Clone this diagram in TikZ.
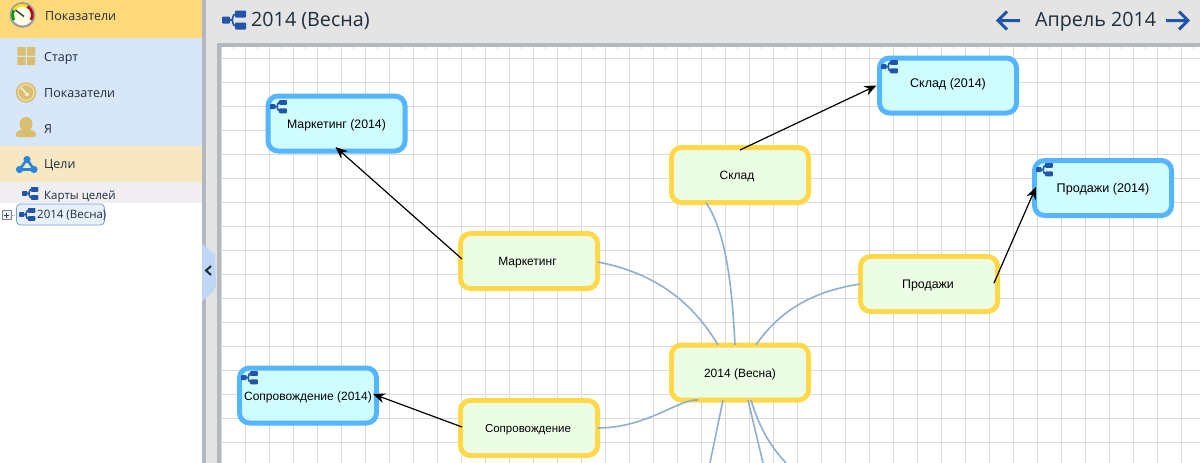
\documentclass[tikz,border=0pt]{standalone}
\usepackage{fontspec}
\setmainfont{Liberation Sans}
\newfontfamily\uifont{Open Sans}
\usetikzlibrary{arrows.meta,calc}
\definecolor{bandtop}{HTML}{FFD97A}
\definecolor{bandblue}{HTML}{D7E6F8}
\definecolor{bandgoal}{HTML}{F7E7C2}
\definecolor{bandsub}{HTML}{F0EEF0}
\definecolor{sepgray}{HTML}{B3B7BE}
\definecolor{barggray}{HTML}{E4E4E4}
\definecolor{gridgray}{HTML}{DADADA}
\definecolor{tan}{HTML}{D8BE6E}
\definecolor{iconblue}{HTML}{2255AA}
\definecolor{linkblue}{HTML}{8FAFD0}
\definecolor{yborder}{HTML}{FFD94A}
\definecolor{yfill}{HTML}{ECFDE6}
\definecolor{bborder}{HTML}{55B5FF}
\definecolor{bfill}{HTML}{CFFDFF}
\definecolor{goalblue}{HTML}{2A86DA}
\definecolor{uitext}{HTML}{1F2D3D}
\definecolor{handleblue}{HTML}{BFD7F5}
\definecolor{treeborder}{HTML}{7C9CE0}
\definecolor{treefill}{HTML}{E8F0FB}
\tikzset{
  x=1pt,y=-1pt,
  ybox/.style={draw=yborder,fill=yfill,line width=5pt,rounded corners=10pt,minimum width=137pt,minimum height=55pt,inner sep=0pt,outer sep=0pt,text height=11pt,text depth=2pt,font=\fontsize{12}{14}\selectfont},
  bbox/.style={draw=bborder,fill=bfill,line width=5pt,rounded corners=10pt,minimum width=137pt,minimum height=55pt,inner sep=0pt,outer sep=0pt,text height=11pt,text depth=2pt,font=\fontsize{12}{14}\selectfont},
  link/.style={draw=linkblue,line width=1.6pt},
  arr/.style={draw=black,line width=1.2pt,-{Stealth[length=12pt,width=10pt]}},
  menu/.style={anchor=west,inner sep=0pt,text=uitext,font=\uifont\fontsize{12.5}{15}\selectfont},
  pics/treeicon/.style={code={
    \fill[iconblue,rounded corners=.8pt] (0,6) rectangle (8,13);
    \fill[iconblue,rounded corners=.8pt] (13,0) rectangle (24,7);
    \fill[iconblue,rounded corners=.8pt] (13,12) rectangle (24,19);
    \draw[iconblue,line width=1.6pt] (7,9.5) -- (10,9.5) (14,3.5) .. controls (10,3.5) and (11,9.5) .. (10,9.5) .. controls (11,9.5) and (10,15.5) .. (14,15.5);
  }}
}
\begin{document}
\begin{tikzpicture}
\useasboundingbox (0,0) rectangle (1200,463);
% backgrounds
\fill[barggray] (202,0) rectangle (1200,463);
\fill[sepgray] (202,0) rectangle (206,463);
\fill[white] (0,203) rectangle (202,463);
\fill[bandtop] (0,0) rectangle (202,38);
\fill[bandblue] (0,38) rectangle (202,146);
\fill[bandgoal] (0,146) rectangle (202,182);
\fill[bandsub] (0,182) rectangle (202,203);
% canvas
\fill[sepgray] (217,43) rectangle (1200,463);
\fill[white] (220.5,47) rectangle (1200,463);
\foreach \k in {0,...,40} {
  \draw[gridgray,line width=1.2pt] ({221.7+24*\k},47) -- ({221.7+24*\k},463);
  \draw[gridgray,line width=1pt] ({233.7+24*\k},47) -- ({233.7+24*\k},49);
}
\foreach \k in {0,...,17} \draw[gridgray,line width=1.2pt] (220.5,{58.7+24*\k}) -- (1200,{58.7+24*\k});
% handle
\fill[handleblue] (202,244) -- (215,254) -- (216,285) -- (214,291) -- (202,301) -- cycle;
\draw[uitext,line width=2pt] (211,266) -- (206,270.5) -- (211,275);
% sidebar icons
\fill[gray!75] (22.5,15) circle (13);
\fill[white!92!yellow] (22.5,15) circle (10.5);
\draw[green!60!black,line width=2.6pt] (14.0,19.9) arc (-210:-150:9.8);
\draw[yellow!85!orange,line width=2.6pt] (14.0,10.1) arc (-150:-60:9.8);
\draw[red!75!black,line width=2.6pt] (27.4,6.5) arc (-60:30:9.8);
\draw[black!75,line width=1.5pt] (24,16.5) -- (15.5,10);
\fill[tan] (17.3,47) rectangle (25.7,55.5) (27,47) rectangle (35,55.5) (17.3,57) rectangle (25.7,65) (27,57) rectangle (35,65);
\fill[tan] (26,92.5) circle (10.3);
\draw[white!60!tan,line width=.9pt] (26,92.5) circle (8);
\draw[white!70!tan,line width=1.6pt] (21,87.5) -- (27,94.5);
\fill[white!70!tan] (27,94.5) circle (2);
\fill[tan] (26,124) ellipse (6.5 and 7);
\fill[tan,rounded corners=3pt] (15,137) -- (16.5,131.5) -- (24,129) -- (28,129) -- (35.5,131.5) -- (37,137) -- cycle;
\draw[goalblue,line width=2.6pt] (27,159.5) -- (19.5,169.5) -- (34,169.5) -- cycle;
\fill[goalblue] (27,159.5) circle (3.6) (19.5,169.5) circle (3.6) (34,169.5) circle (3.6);
\pic[scale=.68] at (22,187) {treeicon};
% sidebar text
\node[menu] (m1) at (45,16) {Показатели};
\node[menu] (m2) at (44,58) {Старт};
\node[menu] (m3) at (44,93) {Показатели};
\node[menu] (m4) at (44,129) {Я};
\node[menu] (m5) at (44,165.5) {Цели};
\node[menu,font=\uifont\fontsize{11.5}{14}\selectfont] (m6) at (44,196.5) {Карты целей};
% tree row
\draw[black!40,dotted] (12,215) -- (17,215);
\draw[gray,fill=treefill,line width=.8pt] (2,210.5) rectangle (11,219.5);
\draw[black!75,line width=.9pt] (4,215) -- (9,215) (6.5,212.5) -- (6.5,217.5);
\draw[draw=treeborder,fill=treefill,line width=.8pt,rounded corners=4pt] (16.5,204) rectangle (104.5,225);
\pic[scale=.68] at (19,208) {treeicon};
\node[menu,font=\uifont\fontsize{11.5}{14}\selectfont] (t1) at (37,215.5) {2014 (Весна)};
% header
\pic at (222,10.5) {treeicon};
\node[anchor=west,inner sep=0pt,text=uitext,font=\uifont\fontsize{19.7}{22}\selectfont] (title) at (251,21) {2014 (Весна)};
\node[anchor=west,inner sep=0pt,text=uitext,font=\uifont\fontsize{19.7}{22}\selectfont] (month) at (1035,22) {Апрель 2014};
\coordinate (pl1) at (1020,20.5); \coordinate (pl2) at (998,20.5);
\coordinate (pr1) at (1166,20.5); \coordinate (pr2) at (1188,20.5);
\draw[iconblue,line width=3pt] (pl1) -- (pl2) ($(pl2)+(9,-9)$) -- (pl2) -- ($(pl2)+(9,9)$);
\draw[iconblue,line width=3pt] (pr1) -- (pr2) ($(pr2)+(-9,-9)$) -- (pr2) -- ($(pr2)+(-9,9)$);
% free ends of the links, at the lower picture edge
\coordinate (d1) at (710,463); \coordinate (d2) at (763,463); \coordinate (d3) at (786,463);
% nodes
\node[ybox] (sk) at (740,175) {\hspace*{-6pt}Склад};
\node[ybox] (mk) at (529,261) {\hspace*{-3pt}Маркетинг};
\node[ybox,font=\fontsize{12.4}{14}\selectfont] (pr) at (929,284) {\hspace*{-2pt}Продажи};
\node[ybox,font=\fontsize{11.5}{14}\selectfont] (so) at (529,428) {\hspace*{-2pt}Сопровождение};
\node[ybox] (ce) at (740,372.5) {2014 (Весна)};
\node[bbox,font=\fontsize{12.3}{14}\selectfont] (mkb) at (336.5,123.5) {Маркетинг (2014)};
\node[bbox,font=\fontsize{12.5}{14}\selectfont,text height=6.5pt] (skb) at (948,85.5) {Склад (2014)};
\node[bbox,font=\fontsize{12.6}{14}\selectfont] (prb) at (1103,188) {Продажи (2014)};
\node[bbox] (sob) at (308,395.5) {Сопровождение (2014)};
\foreach \n/\xx/\yy in {mkb/270/100,skb/881/60,prb/1036/163,sob/241/371}
  \pic[scale=.7] at (\xx,\yy) {treeicon};
\draw[link] ([xshift=-34pt]sk.south) .. controls ($(sk.south)+(-14,30)$) and ($(ce.north)+(-8,-60)$) .. ([xshift=-5pt]ce.north);
\draw[link] ([yshift=-1pt]mk.east) .. controls ($(mk.east)+(70,14)$) and ($(ce.north)+(-40,-30)$) .. ([xshift=-22pt]ce.north);
\draw[link] (pr.west) .. controls ($(pr.west)+(-55,8)$) and ($(ce.north)+(35,-28)$) .. ([xshift=16pt]ce.north);
\draw[link] (so.east) .. controls ($(so.east)+(50,0)$) and ($(ce.south)+(-60,-2)$) .. ([xshift=-42pt]ce.south);
\draw[link] ([xshift=-17pt]ce.south) -- (d1);
\draw[link] ([xshift=8pt]ce.south) -- (d2);
\draw[link] ([xshift=11pt]ce.south) .. controls ($(ce.south)+(20,30)$) and ($(ce.south)+(32,48)$) .. (d3);
% arrows
\draw[arr] ([shift={(1.5,-2)}]mk.west) -- ([xshift=-1pt,yshift=4pt]mkb.south);
\draw[arr] ([yshift=-2.5pt]sk.north) -- ([shift={(-3,0)}]skb.west);
\draw[arr] ([shift={(-3.5,-1)}]pr.east) -- ([shift={(1.5,-1)}]prb.west);
\draw[arr] ([shift={(1.5,-1)}]so.west) -- ([shift={(-3.5,-1.5)}]sob.east);
\end{tikzpicture}
\end{document}
